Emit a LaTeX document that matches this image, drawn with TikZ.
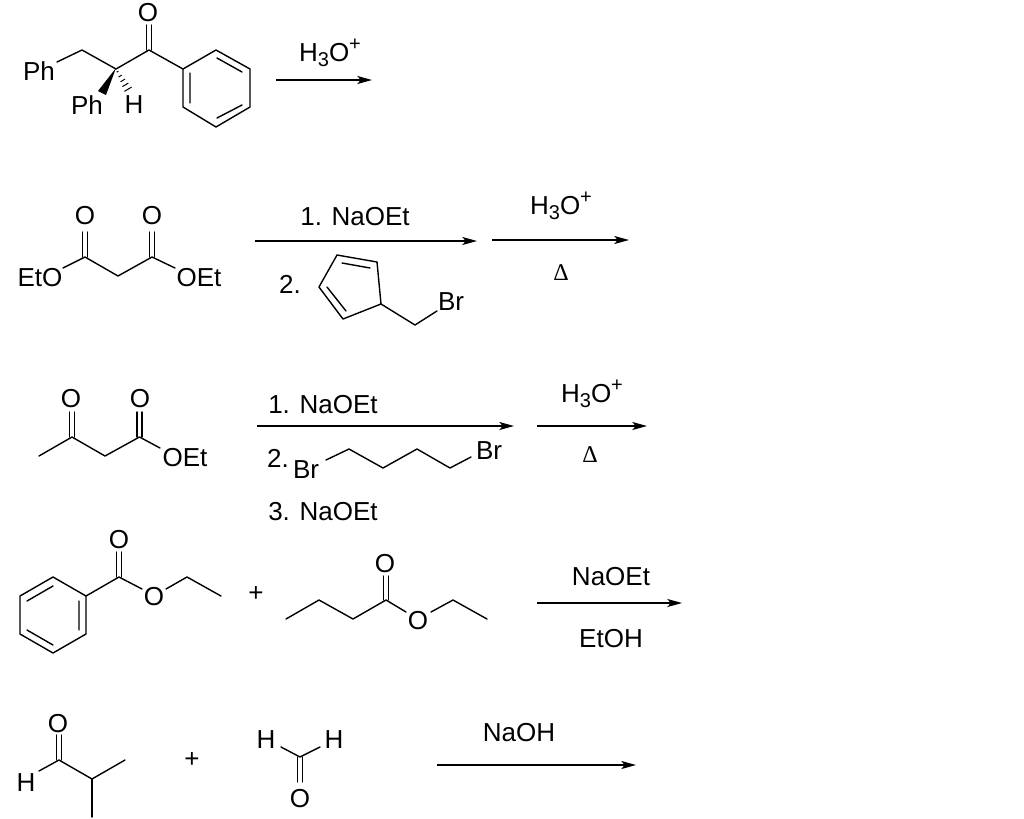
\documentclass[tikz,border=0pt]{standalone}
\usepackage{fontspec}
\setmainfont{Liberation Sans}
\newfontfamily\deltafont{Liberation Serif}
\usetikzlibrary{arrows.meta}
\newcommand{\hthree}{H\raisebox{-0.2em}{\fontsize{15}{15}\selectfont 3}O\raisebox{0.4em}{\fontsize{15}{15}\selectfont +}}
\tikzset{
  x=0.75pt,y=-0.75pt,
  bond/.style={line width=1.05pt,line join=round,line cap=round,black},
  rxn/.style={line width=1.05pt,black,-{Stealth[length=11pt,width=6pt,inset=2.5pt]}},
  lab/.style={font=\fontsize{19.5}{22}\selectfont,inner sep=0pt,black,yshift=-0.6pt},
  heat/.style={font=\deltafont\fontsize{18}{20}\selectfont,inner sep=0pt,black},
}
\begin{document}
\begin{tikzpicture}
\useasboundingbox[fill=white] (0,0) rectangle (1024,818);

% ---------- molecule 1 ----------
\node[lab] (ph1) at (39,70) {Ph};
\node[lab] (ph2) at (87,104) {Ph};
\node[lab] (h1) at (134,104) {H};
\node[lab] (o1) at (148,12) {O};
\draw[bond] (57,62) -- (82,50) -- (116,69) -- (149,50) -- (183,69);
\draw[bond] (183,69) -- (216,50) -- (250,69) -- (250,107) -- (216,127) -- (183,107) -- cycle;
\draw[bond] (146.5,50) -- (146.5,25) (151.5,50) -- (151.5,25);
\draw[bond] (217,58) -- (242,72) (190,73) -- (190,103) (217,118) -- (242,105);
\fill[black] (116,68) -- (98,91) -- (106,95) -- cycle;
\foreach \t/\w in {0.12/1.0,0.32/1.8,0.52/2.6,0.72/3.4,0.92/4.2}{
  \draw[line width=0.75pt,black] ({116+\t*13-\w*0.86},{69+\t*22+\w*0.51}) -- ({116+\t*13+\w*0.86},{69+\t*22-\w*0.51});
}
\coordinate (a1s) at (276,80); \coordinate (a1e) at (372,80);
\draw[rxn] (a1s) -- (a1e);
\node[lab] (t1) at (330,52) {\hthree};

% ---------- molecule 2 ----------
\node[lab] (eto) at (40,277) {EtO};
\node[lab] (oet) at (199,277) {OEt};
\node[lab] (o2a) at (85,215) {O};
\node[lab] (o2b) at (152,215) {O};
\draw[bond] (63,268) -- (85,257) -- (118,276) -- (152,257) -- (175,268);
\draw[bond] (82.5,257) -- (82.5,232) (87.5,257) -- (87.5,232);
\draw[bond] (149.5,257) -- (149.5,232) (154.5,257) -- (154.5,232);
\coordinate (a2s) at (255,241); \coordinate (a2e) at (477,241);
\draw[rxn] (a2s) -- (a2e);
\coordinate (a3s) at (492,240); \coordinate (a3e) at (629,240);
\draw[rxn] (a3s) -- (a3e);
\node[lab] (t2a) at (355,216) {1. NaOEt};
\node[lab] (t2b) at (290,284) {2.};
\node[lab] (br1) at (451,301) {Br};
\node[lab] (t2c) at (561,205) {\hthree};
\node[heat] (d1) at (561,273) {Δ};
\draw[bond] (337,255) -- (377,262) -- (381,304) -- (343,319) -- (319,287) -- cycle;
\draw[bond] (381,304) -- (415,325) -- (437,311);
\draw[bond] (342,263) -- (370,268) (327,287) -- (346,311);

% ---------- molecule 3 ----------
\node[lab] (o3a) at (71,398) {O};
\node[lab] (o3b) at (140,398) {O};
\node[lab] (oet3) at (185,457) {OEt};
\draw[bond] (39,456) -- (72,437) -- (105,456) -- (139.5,437) -- (160,448);
\draw[bond] (69.5,437) -- (69.5,412) (74.5,437) -- (74.5,412);
\draw[bond] (137,437) -- (137,412) (142,437) -- (142,412);
\coordinate (a4s) at (257,426); \coordinate (a4e) at (514,426);
\draw[rxn] (a4s) -- (a4e);
\coordinate (a5s) at (537,426); \coordinate (a5e) at (647,426);
\draw[rxn] (a5s) -- (a5e);
\node[lab,anchor=west] (t3a) at (268,404) {1. NaOEt};
\node[lab] (t3b) at (278,458) {2.};
\node[lab] (br2) at (306,469) {Br};
\node[lab] (br3) at (489,450) {Br};
\node[lab,anchor=west] (t3c) at (268,511) {3. NaOEt};
\node[lab] (t3d) at (592,393) {\hthree};
\node[heat] (d2) at (590,455) {Δ};
\draw[bond] (326,460) -- (349,449) -- (383,468) -- (417,449) -- (450,468) -- (471,457);

% ---------- molecule 4 ----------
\node[lab] (o4a) at (119,539) {O};
\node[lab] (o4b) at (154,596) {O};
\draw[bond] (53,577) -- (86,596) -- (86,634) -- (53,653) -- (20,634) -- (20,596) -- cycle;
\draw[bond] (86,596) -- (119,577) -- (142,589);
\draw[bond] (166,589) -- (187,577) -- (221,596);
\draw[bond] (116.5,577) -- (116.5,552) (121.5,577) -- (121.5,552);
\draw[bond] (27,601) -- (53,586) (79,601) -- (79,630) (27,630) -- (53,645);
\node[lab] (plus1) at (256,593) {+};
\node[lab] (o4c) at (385,563) {O};
\node[lab] (o4d) at (418,620) {O};
\draw[bond] (286,619) -- (319,600) -- (353,619) -- (386,600) -- (406,612);
\draw[bond] (431,612) -- (453,600) -- (487,619);
\draw[bond] (383.5,600) -- (383.5,576) (388.5,600) -- (388.5,576);
\coordinate (a6s) at (537,603); \coordinate (a6e) at (682,603);
\draw[rxn] (a6s) -- (a6e);
\node[lab] (t4a) at (611,576) {NaOEt};
\node[lab] (t4b) at (611,638) {EtOH};

% ---------- molecule 5 ----------
\node[lab] (o5a) at (58,723) {O};
\node[lab] (h5) at (26,782) {H};
\draw[bond] (39,771) -- (59,760) -- (92,779) -- (125,760);
\draw[bond] (92,779) -- (92,817);
\draw[bond] (56.5,760) -- (56.5,735) (61.5,760) -- (61.5,735);
\node[lab] (plus2) at (192,759) {+};
\node[lab] (h5a) at (266,739) {H};
\node[lab] (h5b) at (334,739) {H};
\node[lab] (o5b) at (300,798) {O};
\draw[bond] (281,747) -- (300,757) -- (320,747);
\draw[bond] (297.5,757) -- (297.5,782) (302.5,757) -- (302.5,782);
\coordinate (a7s) at (437,765); \coordinate (a7e) at (636,765);
\draw[rxn] (a7s) -- (a7e);
\node[lab] (t5) at (519,732) {NaOH};
\end{tikzpicture}
\end{document}
